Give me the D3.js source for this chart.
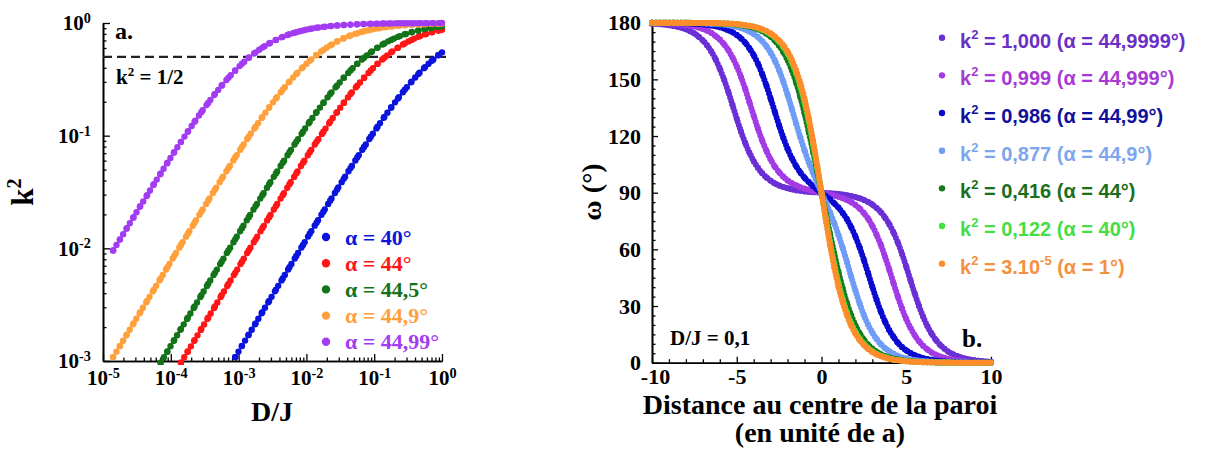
<!DOCTYPE html>
<html><head><meta charset="utf-8">
<script src="https://cdn.jsdelivr.net/npm/d3@7"></script>
<style>
body{margin:0;background:#fff;}
svg text{font-family:"Liberation Serif","Times New Roman",serif;font-weight:bold;}
svg text.sans{font-family:"Liberation Sans",Arial,sans-serif;}
</style></head><body>
<svg id="c" width="1205" height="456"></svg>
<script>
// ---------------- DATA : panel a ----------------
const djRatio = [1.41e-5,1.78e-5,2.24e-5,2.82e-5,3.55e-5,4.47e-5,5.62e-5,7.08e-5,8.91e-5,
 1.12e-4,1.41e-4,1.78e-4,2.24e-4,2.82e-4,3.55e-4,4.47e-4,5.62e-4,7.08e-4,8.91e-4,
 1.12e-3,1.41e-3,1.78e-3,2.24e-3,2.82e-3,3.55e-3,4.47e-3,5.62e-3,7.08e-3,8.91e-3,
 1.12e-2,1.41e-2,1.78e-2,2.24e-2,2.82e-2,3.55e-2,4.47e-2,5.62e-2,7.08e-2,8.91e-2,
 0.112,0.141,0.178,0.224,0.282,0.355,0.447,0.562,0.708,0.891,1];
const k2Alpha40 = [null,null,null,null,null,null,null,null,null,null,null,null,null,null,null,null,null,null,
 0.001083,0.001363,0.001715,0.002158,0.002716,0.003416,0.004296,0.005404,0.006793,0.008537,
 0.01072,0.01347,0.01689,0.02117,0.02651,0.03314,0.04136,0.05153,0.06401,0.07927,
 0.09780,0.1201,0.1466,0.1778,0.2140,0.2553,0.3014,0.3521,0.4062,0.4627,0.5202,0.5487];
const k2Alpha44 = [null,null,null,null,null,null,null,null,null,null,
 0.000965,0.001215,0.001529,0.001924,0.002421,0.003046,0.003831,0.004819,0.006058,0.007616,
 0.00957,0.01201,0.01508,0.01892,0.02370,0.02964,0.03704,0.04618,0.05745,0.07127,
 0.08810,0.1084,0.1328,0.1616,0.1953,0.2340,0.2778,0.3263,0.3787,0.4342,
 0.4914,0.5487,0.6049,0.6585,0.7082,0.7534,0.7936,0.8288,0.8591,0.8724];
const k2Alpha445 = [null,null,null,null,null,null,null,
 0.000965,0.001215,0.001529,0.001924,0.002421,0.003046,0.003831,0.004819,0.006058,0.007616,
 0.00957,0.01201,0.01508,0.01892,0.02370,0.02964,0.03704,0.04618,0.05745,0.07127,
 0.08810,0.1084,0.1328,0.1616,0.1953,0.2340,0.2778,0.3263,0.3787,0.4342,
 0.4914,0.5487,0.6049,0.6585,0.7082,0.7534,0.7936,0.8288,0.8591,0.8847,0.9062,0.9240,0.9317];
const k2Alpha449 = [0.001083,0.001363,0.001715,0.002158,0.002716,0.003416,0.004296,0.005404,0.006793,0.008537,
 0.01072,0.01347,0.01689,0.02117,0.02651,0.03314,0.04136,0.05153,0.06401,0.07927,
 0.09780,0.1201,0.1466,0.1778,0.2140,0.2553,0.3014,0.3521,0.4062,0.4627,
 0.5202,0.5772,0.6321,0.6839,0.7314,0.7742,0.8119,0.8445,0.8724,0.8959,
 0.9155,0.9317,0.9450,0.9558,0.9646,0.9717,0.9773,0.9819,0.9856,0.9872];
const k2Alpha4499 = [0.00957,0.01201,0.01508,0.01892,0.02370,0.02964,0.03704,0.04618,0.05745,0.07127,
 0.08810,0.1084,0.1328,0.1616,0.1953,0.2340,0.2778,0.3263,0.3787,0.4342,
 0.4914,0.5487,0.6049,0.6585,0.7082,0.7534,0.7936,0.8288,0.8591,0.8847,
 0.9062,0.9240,0.9387,0.9507,0.9604,0.9683,0.9747,0.9798,0.9839,0.9872,
 0.9898,0.9919,0.9935,0.9948,0.9959,0.9967,0.9974,0.9979,0.9984,0.9985];
const alphaNamesA = ["α = 40°","α = 44°","α = 44,5°","α = 44,9°","α = 44,99°"];
const halfLevel = [0.5];
const ticksAX = [1e-5,1e-4,1e-3,1e-2,1e-1,1];
const ticksAY = [1e-3,1e-2,1e-1,1];

// ---------------- DATA : panel b ----------------
const distance = [-10,-9.75,-9.5,-9.25,-9,-8.75,-8.5,-8.25,-8,-7.75,-7.5,-7.25,-7,-6.75,-6.5,-6.25,-6,-5.75,-5.5,-5.25,
 -5,-4.75,-4.5,-4.25,-4,-3.75,-3.5,-3.25,-3,-2.75,-2.5,-2.25,-2,-1.75,-1.5,-1.25,-1,-0.75,-0.5,-0.25,0,
 0.25,0.5,0.75,1,1.25,1.5,1.75,2,2.25,2.5,2.75,3,3.25,3.5,3.75,4,4.25,4.5,4.75,5,
 5.25,5.5,5.75,6,6.25,6.5,6.75,7,7.25,7.5,7.75,8,8.25,8.5,8.75,9,9.25,9.5,9.75,10];
const omegaK1000 = [179.5,179.4,179.2,179.0,178.7,178.3,177.9,177.3,176.5,175.5,174.3,172.6,170.6,168.0,164.7,160.7,155.7,149.9,143.4,136.4,
 129.2,122.4,116.3,111.1,106.7,103.2,100.3,98.1,96.3,94.9,93.8,93.0,92.3,91.8,91.3,91.0,90.7,90.5,90.3,90.2,90,
 89.8,89.7,89.5,89.3,89.0,88.7,88.2,87.7,87.0,86.2,85.1,83.7,81.9,79.7,76.8,73.3,68.9,63.7,57.6,50.8,
 43.6,36.6,30.1,24.3,19.3,15.3,12.0,9.4,7.4,5.7,4.5,3.5,2.7,2.1,1.7,1.3,1.0,0.8,0.6,0.5];
const omegaK0999 = [179.8,179.8,179.7,179.7,179.6,179.4,179.3,179.0,178.8,178.4,178.0,177.4,176.7,175.8,174.6,173.0,171.1,168.6,165.5,161.6,
 156.9,151.3,144.9,137.9,130.8,123.9,117.6,112.2,107.6,103.8,100.8,98.4,96.5,95.0,93.9,92.9,92.1,91.5,90.9,90.5,90,
 89.5,89.1,88.5,87.9,87.1,86.1,85.0,83.5,81.6,79.2,76.2,72.4,67.8,62.4,56.1,49.2,42.1,35.1,28.7,23.1,
 18.4,14.5,11.4,8.9,7.0,5.4,4.2,3.3,2.6,2.0,1.6,1.2,1.0,0.7,0.6,0.4,0.3,0.3,0.2,0.2];
const omegaK0986 = [180.0,179.9,179.9,179.9,179.9,179.8,179.8,179.7,179.7,179.6,179.5,179.3,179.1,178.9,178.5,178.1,177.6,176.9,176.0,174.9,
 173.5,171.7,169.4,166.4,162.8,158.3,152.9,146.7,139.8,132.7,125.6,119.0,113.2,108.3,104.1,100.7,97.9,95.6,93.5,91.7,90,
 88.3,86.5,84.4,82.1,79.3,75.9,71.7,66.8,61.0,54.4,47.3,40.2,33.3,27.1,21.7,17.2,13.6,10.6,8.3,6.5,
 5.1,4.0,3.1,2.4,1.9,1.5,1.1,0.9,0.7,0.5,0.4,0.3,0.3,0.2,0.2,0.1,0.1,0.1,0.1,0.0];
const omegaK0877 = [180,180,180,180,180,180,179.9,179.9,179.9,179.9,179.8,179.8,179.7,179.6,179.5,179.4,179.2,179.0,178.7,178.3,
 177.8,177.2,176.4,175.3,174.0,172.4,170.2,167.5,164.1,159.9,154.8,148.7,141.8,134.4,126.7,119.3,112.4,106.1,100.4,95.1,90,
 84.9,79.6,73.9,67.6,60.7,53.3,45.6,38.2,31.3,25.2,20.1,15.9,12.5,9.8,7.6,6.0,4.7,3.6,2.8,2.2,
 1.7,1.3,1.0,0.8,0.6,0.5,0.4,0.3,0.2,0.2,0.1,0.1,0.1,0.1,0,0,0,0,0,0];
const omegaK0416 = [180,180,180,180,180,180,180,180,180,179.9,179.9,179.9,179.9,179.8,179.8,179.7,179.6,179.5,179.4,179.2,
 179.0,178.7,178.3,177.9,177.3,176.5,175.5,174.2,172.6,170.5,167.8,164.4,160.2,154.9,148.4,140.7,131.9,122.1,111.7,100.9,90,
 79.1,68.3,57.9,48.1,39.3,31.6,25.1,19.8,15.6,12.2,9.5,7.4,5.8,4.5,3.5,2.7,2.1,1.7,1.3,1.0,
 0.8,0.6,0.5,0.4,0.3,0.2,0.2,0.1,0.1,0.1,0.1,0,0,0,0,0,0,0,0,0];
const omegaK0122 = [180,180,180,180,180,180,180,180,180,180,179.9,179.9,179.9,179.9,179.8,179.8,179.7,179.6,179.5,179.4,
 179.2,178.9,178.6,178.3,177.8,177.1,176.3,175.3,173.9,172.2,170.0,167.2,163.6,159.1,153.4,146.3,137.8,127.6,116.0,103.3,90,
 76.7,64.0,52.4,42.2,33.7,26.6,20.9,16.4,12.8,10.0,7.8,6.1,4.7,3.7,2.9,2.2,1.7,1.4,1.1,0.8,
 0.6,0.5,0.4,0.3,0.2,0.2,0.1,0.1,0.1,0.1,0,0,0,0,0,0,0,0,0,0];
const omegaK3e5 = [180,180,180,180,180,180,180,180,180,180,179.9,179.9,179.9,179.9,179.8,179.8,179.7,179.6,179.5,179.4,
 179.2,179.0,178.7,178.4,177.9,177.3,176.5,175.6,174.3,172.7,170.6,168.0,164.6,160.3,154.8,148.0,139.6,129.4,117.5,104.2,90,
 75.8,62.5,50.6,40.4,32.0,25.2,19.7,15.4,12.0,9.4,7.3,5.7,4.4,3.5,2.7,2.1,1.6,1.3,1.0,0.8,
 0.6,0.5,0.4,0.3,0.2,0.2,0.1,0.1,0.1,0.1,0,0,0,0,0,0,0,0,0,0];
const k2NamesB = ["1,000","0,999","0,986","0,877","0,416","0,122","3.10^-5"];
const alphaNamesB = ["44,9999°","44,999°","44,99°","44,9°","44°","40°","1°"];
const ticksBX = [-10,-5,0,5,10];
const ticksBY = [0,30,60,90,120,150,180];

// ---------------- STYLE ----------------
const colorsA = ["#0a14dc","#ff1616","#137318","#ffa03c","#a23cf2"];
const colorsB = ["#6b2fd6","#a23be6","#0a0ad0","#6e9cf7","#167a1c","#3fe23f","#ff8c2a"];
const textColorsB = ["#6a2fc4","#a63ad2","#10109c","#7da6ee","#1b6f1b","#45dc45","#f59040"];

const svg = d3.select("#c");

function beads(g, xs, ys, sx, sy, color, w, gap) {
  const pts = xs.map((x, i) => [x, ys[i]]);
  const line = d3.line().defined(d => d[1] != null)
    .x(d => sx(d[0])).y(d => sy(d[1])).curve(d3.curveMonotoneX);
  g.append("path").datum(pts).attr("d", line).attr("fill", "none")
    .attr("stroke", color).attr("stroke-width", w)
    .attr("stroke-linecap", "round").attr("stroke-dasharray", "0 " + gap);
  g.append("g").selectAll("circle").data(pts.filter(d => d[1] != null)).join("circle")
    .attr("cx", d => sx(d[0])).attr("cy", d => sy(d[1])).attr("r", w / 2).attr("fill", color);
}
function styleAxis(g) {
  g.select(".domain").attr("stroke", "#000").attr("stroke-width", 1.6);
  g.selectAll(".tick line").attr("stroke", "#000").attr("stroke-width", 1.3);
  g.selectAll("text").attr("fill", "#000");
}
function pow10Label(sel, size) {
  sel.each(function (d) {
    const t = d3.select(this);
    const e = Math.round(Math.log10(d));
    t.text(null).attr("font-size", size);
    t.append("tspan").text("10");
    t.append("tspan").attr("dy", "-0.5em").attr("font-size", "0.68em").text(String(e));
  });
}

// ================= PANEL A =================
const xA = d3.scaleLog().domain([1e-5, 1]).range([103, 442]);
const yA = d3.scaleLog().domain([1e-3, 1]).range([361, 23]);
const gA = svg.append("g");
svg.append("defs").append("clipPath").attr("id", "clipA")
  .append("rect").attr("x", 96).attr("y", 14).attr("width", 354).attr("height", 351);

const minorAX = xA.ticks().filter(v => !ticksAX.includes(v));
const minorAY = yA.ticks().filter(v => !ticksAY.includes(v));
gA.append("g").attr("transform", "translate(0,361)")
  .call(d3.axisBottom(xA).tickValues(minorAX).tickSizeInner(-3.5).tickSizeOuter(0).tickFormat(""))
  .call(styleAxis);
gA.append("g").attr("transform", "translate(103,0)")
  .call(d3.axisLeft(yA).tickValues(minorAY).tickSizeInner(-3.5).tickSizeOuter(0).tickFormat(""))
  .call(styleAxis);
const axAX = gA.append("g").attr("transform", "translate(0,361)")
  .call(d3.axisBottom(xA).tickValues(ticksAX).tickSizeInner(-7).tickSizeOuter(0).tickPadding(9))
  .call(styleAxis);
axAX.selectAll(".tick text").call(pow10Label, 21);
const axAY = gA.append("g").attr("transform", "translate(103,0)")
  .call(d3.axisLeft(yA).tickValues(ticksAY).tickSizeInner(-7).tickSizeOuter(0).tickPadding(12))
  .call(styleAxis);
axAY.selectAll(".tick text").call(pow10Label, 21);

gA.append("line").datum(halfLevel[0])
  .attr("x1", 103).attr("x2", 446).attr("y1", d => yA(d)).attr("y2", d => yA(d))
  .attr("stroke", "#222").attr("stroke-width", 2.2).attr("stroke-dasharray", "9 5");

const seriesA = [k2Alpha40, k2Alpha44, k2Alpha445, k2Alpha449, k2Alpha4499];
const plotA = gA.append("g").attr("clip-path", "url(#clipA)");
seriesA.forEach((s, i) => beads(plotA, djRatio, s, xA, yA, colorsA[i], 6.4, 6.4));

gA.append("text").attr("x", 115).attr("y", 39).attr("font-size", 24).text("a.");
const kh = gA.append("text").attr("x", 116).attr("y", 84).attr("font-size", 21);
kh.append("tspan").text("k");
kh.append("tspan").attr("dy", -8).attr("font-size", 13).text("2");
kh.append("tspan").attr("dy", 8).text(" = 1/2");
gA.append("text").attr("x", 272).attr("y", 421).attr("text-anchor", "middle").attr("font-size", 28).text("D/J");
const kl = gA.append("text").attr("transform", "translate(33,192) rotate(-90)")
  .attr("text-anchor", "middle").attr("font-size", 31);
kl.append("tspan").text("k");
kl.append("tspan").attr("dy", -12).attr("font-size", 20).text("2");

const legA = gA.append("g");
alphaNamesA.forEach((name, i) => {
  const yy = 237 + i * 26.2;
  legA.append("circle").attr("cx", 326).attr("cy", yy).attr("r", 4.2).attr("fill", colorsA[i]);
  legA.append("text").attr("x", 345).attr("y", yy + 7.5).attr("font-size", 22)
    .attr("fill", colorsA[i]).text(name);
});

// ================= PANEL B =================
const xB = d3.scaleLinear().domain([-10, 10]).range([652, 991]);
const yB = d3.scaleLinear().domain([0, 180]).range([362.7, 22.7]);
const gB = svg.append("g");
const minorBX = d3.range(-10, 11, 1).filter(v => !ticksBX.includes(v));
const minorBY = d3.range(0, 181, 5).filter(v => !ticksBY.includes(v));
gB.append("g").attr("transform", "translate(0,362.7)")
  .call(d3.axisBottom(xB).tickValues(minorBX).tickSizeInner(-3.5).tickSizeOuter(0).tickFormat(""))
  .call(styleAxis);
gB.append("g").attr("transform", "translate(652,0)")
  .call(d3.axisLeft(yB).tickValues(minorBY).tickSizeInner(-3.5).tickSizeOuter(0).tickFormat(""))
  .call(styleAxis);
gB.append("g").attr("transform", "translate(0,362.7)")
  .call(d3.axisBottom(xB).tickValues(ticksBX).tickSizeInner(-6).tickSizeOuter(0).tickPadding(6)
    .tickFormat(d => String(d)))
  .call(styleAxis)
  .selectAll(".tick text").attr("font-size", 22)
  .attr("dx", d => d === -10 ? 3 : 0);
gB.append("g").attr("transform", "translate(652,0)")
  .call(d3.axisLeft(yB).tickValues(ticksBY).tickSizeInner(-6).tickSizeOuter(0).tickPadding(11)
    .tickFormat(d => String(d)))
  .call(styleAxis)
  .selectAll(".tick text").attr("font-size", 22);

const seriesB = [omegaK1000, omegaK0999, omegaK0986, omegaK0877, omegaK0416, omegaK0122, omegaK3e5];
const plotB = gB.append("g");
seriesB.forEach((s, i) => beads(plotB, distance, s, xB, yB, colorsB[i], 6, 3.6));

gB.append("text").attr("x", 670).attr("y", 345).attr("font-size", 21).text("D/J = 0,1");
gB.append("text").attr("x", 962).attr("y", 347).attr("font-size", 25).text("b.");
gB.append("text").attr("x", 820).attr("y", 414).attr("text-anchor", "middle").attr("font-size", 28)
  .text("Distance au centre de la paroi");
gB.append("text").attr("x", 820).attr("y", 442).attr("text-anchor", "middle").attr("font-size", 28)
  .text("(en unité de a)");
gB.append("text").attr("transform", "translate(601,192) rotate(-90)").attr("text-anchor", "middle")
  .attr("font-size", 28).text("ω (°)");

const legB = gB.append("g");
k2NamesB.forEach((name, i) => {
  const yy = 40.7 + i * 37.66;
  legB.append("circle").attr("cx", 942).attr("cy", yy - 3).attr("r", 3.2).attr("fill", colorsB[i]);
  const t = legB.append("text").attr("class", "sans").attr("x", 960).attr("y", yy + 7)
    .attr("font-size", 20).attr("fill", textColorsB[i]);
  t.append("tspan").text("k");
  t.append("tspan").attr("dy", -9).attr("font-size", 13).text("2");
  const parts = name.split("^");
  t.append("tspan").attr("dy", 9).text(" = " + parts[0]);
  if (parts.length > 1) {
    t.append("tspan").attr("dy", -9).attr("font-size", 13).text(parts[1]);
    t.append("tspan").attr("dy", 9).text(" (α = " + alphaNamesB[i] + ")");
  } else {
    t.append("tspan").text(" (α = " + alphaNamesB[i] + ")");
  }
});
</script>
</body></html>
